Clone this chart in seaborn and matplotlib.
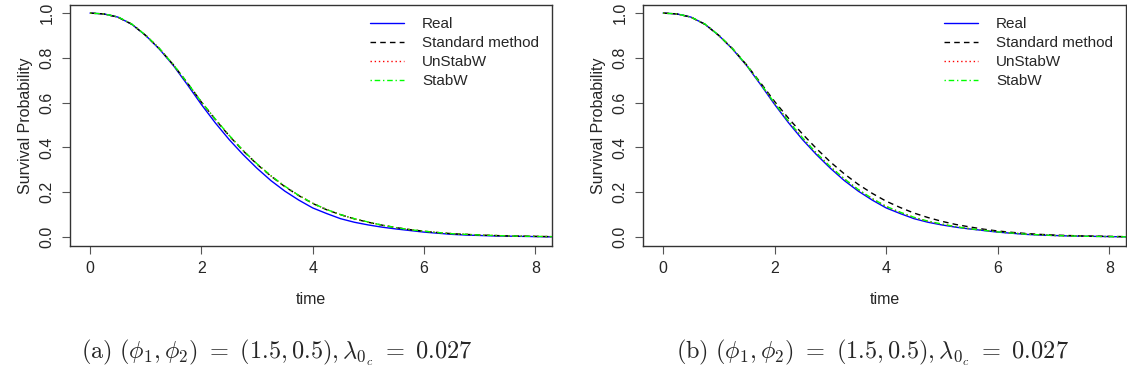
import numpy as np
import pandas as pd
import matplotlib
matplotlib.use("Agg")
import matplotlib.pyplot as plt
import seaborn as sns

sns.set_style("ticks")
plt.rcParams['font.family'] = ['Liberation Sans', 'DejaVu Sans']
plt.rcParams['mathtext.fontset'] = 'cm'

time = [0.0, 0.25, 0.5, 0.75, 1.0, 1.25, 1.5, 1.75, 2.0, 2.25, 2.5, 2.75, 3.0, 3.25,
        3.5, 3.75, 4.0, 4.25, 4.5, 4.75, 5.0, 5.25, 5.5, 5.75, 6.0, 6.25, 6.5, 6.75,
        7.0, 7.25, 7.5, 7.75, 8.0, 8.25, 8.5]

real = [1.000, 0.996, 0.982, 0.950, 0.900, 0.838, 0.765, 0.680, 0.592, 0.510, 0.435,
        0.368, 0.307, 0.252, 0.205, 0.165, 0.130, 0.105, 0.082, 0.066, 0.054, 0.044,
        0.036, 0.029, 0.022, 0.017, 0.012, 0.009, 0.007, 0.005, 0.004, 0.003, 0.002,
        0.001, 0.001]

a_standard = [1.000, 0.996, 0.982, 0.950, 0.900, 0.840, 0.768, 0.688, 0.603, 0.525,
              0.452, 0.385, 0.325, 0.272, 0.225, 0.185, 0.150, 0.122, 0.100, 0.081,
              0.066, 0.053, 0.042, 0.033, 0.026, 0.020, 0.015, 0.012, 0.009, 0.007,
              0.005, 0.004, 0.003, 0.002, 0.001]
a_unstab = [1.000, 0.996, 0.982, 0.951, 0.901, 0.841, 0.768, 0.687, 0.602, 0.526,
            0.453, 0.386, 0.326, 0.273, 0.226, 0.186, 0.151, 0.123, 0.100, 0.081,
            0.066, 0.053, 0.042, 0.033, 0.026, 0.020, 0.015, 0.012, 0.009, 0.007,
            0.005, 0.004, 0.003, 0.002, 0.001]
a_stab = [1.000, 0.996, 0.983, 0.951, 0.901, 0.841, 0.769, 0.688, 0.604, 0.527,
          0.454, 0.387, 0.327, 0.274, 0.227, 0.186, 0.151, 0.123, 0.100, 0.082,
          0.067, 0.053, 0.042, 0.033, 0.026, 0.020, 0.015, 0.012, 0.009, 0.007,
          0.005, 0.004, 0.003, 0.002, 0.001]

b_standard = [1.000, 0.996, 0.982, 0.950, 0.900, 0.840, 0.768, 0.688, 0.605, 0.530,
              0.460, 0.395, 0.335, 0.282, 0.235, 0.195, 0.160, 0.132, 0.107, 0.087,
              0.070, 0.056, 0.045, 0.035, 0.027, 0.021, 0.016, 0.012, 0.009, 0.007,
              0.005, 0.004, 0.003, 0.002, 0.001]
b_unstab = [1.000, 0.996, 0.982, 0.950, 0.900, 0.839, 0.766, 0.683, 0.597, 0.516,
            0.442, 0.374, 0.313, 0.259, 0.211, 0.171, 0.136, 0.110, 0.087, 0.070,
            0.057, 0.046, 0.037, 0.030, 0.023, 0.018, 0.013, 0.010, 0.007, 0.005,
            0.004, 0.003, 0.002, 0.001, 0.001]
b_stab = [1.000, 0.996, 0.982, 0.951, 0.901, 0.840, 0.767, 0.684, 0.598, 0.517,
          0.443, 0.375, 0.314, 0.260, 0.212, 0.172, 0.137, 0.111, 0.088, 0.071,
          0.058, 0.046, 0.037, 0.030, 0.023, 0.018, 0.013, 0.010, 0.007, 0.005,
          0.004, 0.003, 0.002, 0.001, 0.001]

labels = ["Real", "Standard method", "UnStabW", "StabW"]
colors = ["#0000FF", "#000000", "#FF0000", "#00FF00"]
styles = ["-", (0, (4, 3)), (0, (1, 2)), (0, (1, 2, 4, 2))]
captions = [r"$\mathrm{(a)}\ (\phi_1,\phi_2)\ =\ (1.5, 0.5), \lambda_{0_c}\ =\ 0.027$",
            r"$\mathrm{(b)}\ (\phi_1,\phi_2)\ =\ (1.5, 0.5), \lambda_{0_c}\ =\ 0.027$"]
xticks = [0, 2, 4, 6, 8]
yticks = [0.0, 0.2, 0.4, 0.6, 0.8, 1.0]

W, H = 1127, 381
fig = plt.figure(figsize=(W / 100, H / 100), dpi=100)

panels = [
    ([real, a_standard, a_unstab, a_stab], 70, 552, 277, captions[0]),
    ([real, b_standard, b_unstab, b_stab], 643, 1126, 872, captions[1]),
]

for series, x0, x1, cx, cap in panels:
    ax = fig.add_axes([x0 / W, 1 - 246 / H, (x1 - x0) / W, (246 - 5) / H])
    for vals, lab, col, ls in zip(series, labels, colors, styles):
        df = pd.DataFrame({"time": time, "surv": vals})
        sns.lineplot(data=df, x="time", y="surv", ax=ax, color=col, linestyle=ls,
                     linewidth=1.0, label=lab)
    ax.set_xlim(-0.36, 8.3)
    ax.set_ylim(-0.04, 1.036)
    ax.set_xticks(xticks)
    ax.set_xticklabels([str(t) for t in xticks], fontsize=11.5)
    ax.set_yticks(yticks)
    ax.set_yticklabels([f"{t:.1f}" for t in yticks], fontsize=11.5, rotation=90,
                       va="center")
    ax.tick_params(axis="both", length=6, width=0.8, color="#555555", pad=5)
    for sp in ax.spines.values():
        sp.set_visible(True)
        sp.set_linewidth(1.0)
        sp.set_color("#333333")
    ax.set_xlabel("time", fontsize=11.5, labelpad=11)
    ax.set_ylabel("Survival Probability", fontsize=11.5, labelpad=5)
    ax.legend(loc="upper right", frameon=False, fontsize=11,
              handlelength=2.2, handletextpad=1.2, labelspacing=0.33,
              borderaxespad=0.3, bbox_to_anchor=(0.995, 0.995))
    fig.text(cx / W, 1 - 353 / H, cap, ha="center", va="center", fontsize=17.5)

fig.savefig("out.png", dpi=100)
